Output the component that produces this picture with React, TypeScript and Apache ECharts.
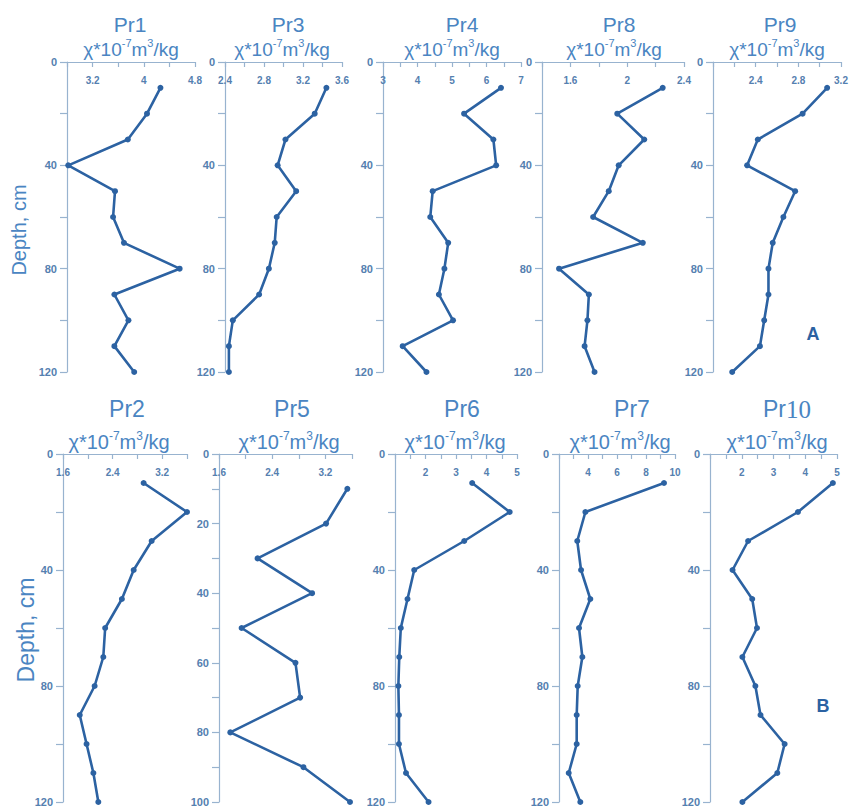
import React, { useEffect, useRef } from "react";
import * as echarts from "echarts";

// ---------- data ----------
const DEPTHS_120 = [10, 20, 30, 40, 50, 60, 70, 80, 90, 100, 110, 120];
const DEPTHS_100 = [10, 20, 30, 40, 50, 60, 70, 80, 90, 100];

const PR1 = [4.26, 4.05, 3.75, 2.82, 3.55, 3.52, 3.69, 4.56, 3.54, 3.76, 3.54, 3.85];
const PR3 = [3.44, 3.32, 3.02, 2.94, 3.13, 2.93, 2.91, 2.85, 2.75, 2.48, 2.44, 2.44];
const PR4 = [6.42, 5.35, 6.2, 6.28, 4.44, 4.37, 4.89, 4.78, 4.62, 5.03, 3.57, 4.26];
const PR8 = [2.25, 1.93, 2.12, 1.94, 1.87, 1.76, 2.11, 1.52, 1.73, 1.72, 1.7, 1.77];
const PR9 = [3.07, 2.84, 2.42, 2.32, 2.77, 2.66, 2.56, 2.52, 2.52, 2.48, 2.44, 2.18];
const PR2 = [2.9, 3.6, 3.03, 2.74, 2.55, 2.28, 2.25, 2.11, 1.87, 1.98, 2.09, 2.17];
const PR5 = [3.53, 3.21, 2.18, 3.0, 1.94, 2.75, 2.82, 1.77, 2.87, 3.57];
const PR6 = [3.53, 4.76, 3.27, 1.63, 1.41, 1.19, 1.14, 1.11, 1.13, 1.13, 1.36, 2.1];
const PR7 = [9.24, 3.82, 3.26, 3.52, 4.16, 3.38, 3.61, 3.29, 3.22, 3.22, 2.67, 3.47];
const PR10 = [4.87, 3.77, 2.2, 1.71, 2.33, 2.48, 2.02, 2.43, 2.59, 3.35, 3.12, 2.02];

// tick values / tick labels of the top (value) axes
const PR1_TICKS = [2.8, 3.2, 3.6, 4, 4.4, 4.8];
const PR1_LABELS = [3.2, 4, 4.8];
const PR3_TICKS = [2.4, 2.6, 2.8, 3.0, 3.2, 3.4, 3.6];
const PR3_LABELS = [2.4, 2.8, 3.2, 3.6];
const PR4_TICKS = [3, 3.5, 4, 4.5, 5, 5.5, 6, 6.5, 7];
const PR4_LABELS = [3, 4, 5, 6, 7];
const PR8_TICKS = [1.4, 1.6, 1.8, 2.0, 2.2, 2.4];
const PR8_LABELS = [1.6, 2, 2.4];
const PR9_TICKS = [2.0, 2.2, 2.4, 2.6, 2.8, 3.0, 3.2];
const PR9_LABELS = [2.4, 2.8, 3.2];
const PR2_TICKS = [1.6, 2.0, 2.4, 2.8, 3.2, 3.6];
const PR2_LABELS = [1.6, 2.4, 3.2];
const PR5_TICKS = [1.6, 2.0, 2.4, 2.8, 3.2, 3.6];
const PR5_LABELS = [1.6, 2.4, 3.2];
const PR6_TICKS = [1, 1.5, 2, 2.5, 3, 3.5, 4, 4.5, 5];
const PR6_LABELS = [2, 3, 4, 5];
const PR7_TICKS = [2, 3, 4, 5, 6, 7, 8, 9, 10];
const PR7_LABELS = [4, 6, 8, 10];
const PR10_TICKS = [1, 1.5, 2, 2.5, 3, 3.5, 4, 4.5, 5];
const PR10_LABELS = [2, 3, 4, 5];

// depth axis ticks / labels
const DEPTH_TICKS_120 = [0, 20, 40, 60, 80, 100, 120];
const DEPTH_LABELS_120 = [0, 40, 80, 120];
const DEPTH_TICKS_100 = [0, 10, 20, 30, 40, 50, 60, 70, 80, 90, 100];
const DEPTH_LABELS_100 = [0, 20, 40, 60, 80, 100];

const PANEL_NAMES = ["Pr1", "Pr3", "Pr4", "Pr8", "Pr9", "Pr2", "Pr5", "Pr6", "Pr7", "Pr10"];
const UNIT_TEXT = "{a|χ*10}{s|-7}{a|m}{s|3}{a|/kg}";
const DEPTH_TITLE = "Depth, cm";
const ROW_LETTERS = ["A", "B"];

// ---------- layout / style ----------
const FONT = "'Liberation Sans', Arial, Helvetica, sans-serif";
const TEXT_BLUE = "#4a85c2";
const LINE_BLUE = "#2c62a2";
const AXIS_BLUE = "#98b3cf";
const TICKLABEL_BLUE = "#5580b0";

type Panel = {
  name: string;
  values: number[];
  depths: number[];
  xMin: number;
  xMax: number;
  xTicks: number[];
  xLabels: number[];
  yMax: number;
  yTicks: number[];
  yLabels: number[];
  grid: { left: number; top: number; width: number; height: number };
  titleX: number;
  unitX: number;
  row: 0 | 1;
};

const ROW_A = { top: 62, height: 310 };
const ROW_B = { top: 454, height: 348 };

const panels: Panel[] = [
  { name: PANEL_NAMES[0], values: PR1, depths: DEPTHS_120, xMin: 2.8, xMax: 4.8, xTicks: PR1_TICKS, xLabels: PR1_LABELS, yMax: 120, yTicks: DEPTH_TICKS_120, yLabels: DEPTH_LABELS_120, grid: { left: 67, width: 128, ...ROW_A }, titleX: 130, unitX: 131, row: 0 },
  { name: PANEL_NAMES[1], values: PR3, depths: DEPTHS_120, xMin: 2.4, xMax: 3.6, xTicks: PR3_TICKS, xLabels: PR3_LABELS, yMax: 120, yTicks: DEPTH_TICKS_120, yLabels: DEPTH_LABELS_120, grid: { left: 225, width: 117, ...ROW_A }, titleX: 288, unitX: 282, row: 0 },
  { name: PANEL_NAMES[2], values: PR4, depths: DEPTHS_120, xMin: 3, xMax: 7, xTicks: PR4_TICKS, xLabels: PR4_LABELS, yMax: 120, yTicks: DEPTH_TICKS_120, yLabels: DEPTH_LABELS_120, grid: { left: 383, width: 138, ...ROW_A }, titleX: 462, unitX: 452, row: 0 },
  { name: PANEL_NAMES[3], values: PR8, depths: DEPTHS_120, xMin: 1.4, xMax: 2.4, xTicks: PR8_TICKS, xLabels: PR8_LABELS, yMax: 120, yTicks: DEPTH_TICKS_120, yLabels: DEPTH_LABELS_120, grid: { left: 542, width: 142, ...ROW_A }, titleX: 619, unitX: 614, row: 0 },
  { name: PANEL_NAMES[4], values: PR9, depths: DEPTHS_120, xMin: 2.0, xMax: 3.2, xTicks: PR9_TICKS, xLabels: PR9_LABELS, yMax: 120, yTicks: DEPTH_TICKS_120, yLabels: DEPTH_LABELS_120, grid: { left: 713, width: 128, ...ROW_A }, titleX: 780, unitX: 777, row: 0 },
  { name: PANEL_NAMES[5], values: PR2, depths: DEPTHS_120, xMin: 1.6, xMax: 3.6, xTicks: PR2_TICKS, xLabels: PR2_LABELS, yMax: 120, yTicks: DEPTH_TICKS_120, yLabels: DEPTH_LABELS_120, grid: { left: 63, width: 124, ...ROW_B }, titleX: 127, unitX: 119, row: 1 },
  { name: PANEL_NAMES[6], values: PR5, depths: DEPTHS_100, xMin: 1.6, xMax: 3.6, xTicks: PR5_TICKS, xLabels: PR5_LABELS, yMax: 100, yTicks: DEPTH_TICKS_100, yLabels: DEPTH_LABELS_100, grid: { left: 219, width: 133, ...ROW_B }, titleX: 292, unitX: 289, row: 1 },
  { name: PANEL_NAMES[7], values: PR6, depths: DEPTHS_120, xMin: 1, xMax: 5, xTicks: PR6_TICKS, xLabels: PR6_LABELS, yMax: 120, yTicks: DEPTH_TICKS_120, yLabels: DEPTH_LABELS_120, grid: { left: 395, width: 122, ...ROW_B }, titleX: 462, unitX: 455, row: 1 },
  { name: PANEL_NAMES[8], values: PR7, depths: DEPTHS_120, xMin: 2, xMax: 10, xTicks: PR7_TICKS, xLabels: PR7_LABELS, yMax: 120, yTicks: DEPTH_TICKS_120, yLabels: DEPTH_LABELS_120, grid: { left: 559, width: 116, ...ROW_B }, titleX: 632, unitX: 620, row: 1 },
  { name: PANEL_NAMES[9], values: PR10, depths: DEPTHS_120, xMin: 1, xMax: 5, xTicks: PR10_TICKS, xLabels: PR10_LABELS, yMax: 120, yTicks: DEPTH_TICKS_120, yLabels: DEPTH_LABELS_120, grid: { left: 710, width: 127, ...ROW_B }, titleX: 787, unitX: 777, row: 1 },
];

function titleText(name: string) {
  const m = name.match(/^([A-Za-z]+)(\d+)$/);
  if (m && m[2].length > 1) return `{a|${m[1]}}{b|${m[2]}}`;
  return `{a|${name}}`;
}

function buildOption() {
  const grid = panels.map((p) => ({ ...p.grid, containLabel: false, outerBoundsMode: "none" }));
  const xAxis = panels.map((p, i) => ({
    type: "value",
    gridIndex: i,
    position: "top",
    min: p.xMin,
    max: p.xMax,
    axisLine: { show: true, onZero: false, lineStyle: { color: AXIS_BLUE, width: 1.2 } },
    axisTick: { show: true, inside: true, length: 5, customValues: p.xTicks, lineStyle: { color: AXIS_BLUE, width: 1.2 } },
    axisLabel: {
      show: true,
      inside: true,
      margin: 13,
      customValues: p.xLabels,
      color: TICKLABEL_BLUE,
      fontFamily: FONT,
      fontSize: 10,
      fontWeight: "bold",
      formatter: (v: number) => String(+v.toFixed(2)),
    },
    splitLine: { show: false },
  }));
  const yAxis = panels.map((p, i) => ({
    type: "value",
    gridIndex: i,
    inverse: true,
    min: 0,
    max: p.yMax,
    axisLine: { show: true, onZero: false, lineStyle: { color: AXIS_BLUE, width: 1.2 } },
    axisTick: { show: true, inside: false, length: 7, customValues: p.yTicks, lineStyle: { color: AXIS_BLUE, width: 1.2 } },
    axisLabel: {
      show: true,
      margin: 10,
      customValues: p.yLabels,
      color: TICKLABEL_BLUE,
      fontFamily: FONT,
      fontSize: 11,
      fontWeight: "bold",
    },
    splitLine: { show: false },
  }));
  const series = panels.map((p, i) => ({
    type: "line",
    name: p.name,
    xAxisIndex: i,
    yAxisIndex: i,
    data: p.values.map((v, k) => [v, p.depths[k]]),
    symbol: "circle",
    symbolSize: 6,
    showSymbol: true,
    lineStyle: { color: LINE_BLUE, width: 2.6 },
    itemStyle: { color: LINE_BLUE },
    silent: true,
  }));

  const graphic: any[] = [];
  panels.forEach((p) => {
    const big = p.row === 1;
    graphic.push({
      type: "text",
      x: p.titleX,
      y: big ? 409 : 24,
      style: {
        text: titleText(p.name),
        fill: TEXT_BLUE,
        textAlign: "center",
        textVerticalAlign: "middle",
        rich: {
          a: { fontFamily: FONT, fontSize: big ? 23 : 21, fill: TEXT_BLUE },
          b: { fontFamily: "'Liberation Serif', 'DejaVu Serif', serif", fontSize: big ? 25 : 23, fill: TEXT_BLUE },
        },
      },
    });
    graphic.push({
      type: "text",
      x: p.unitX,
      y: big ? 441 : 48,
      style: {
        text: UNIT_TEXT,
        fill: TEXT_BLUE,
        textAlign: "center",
        textVerticalAlign: "middle",
        rich: {
          a: { fontFamily: FONT, fontSize: big ? 20 : 19, lineHeight: 22, fill: TEXT_BLUE, verticalAlign: "bottom" },
          s: { fontFamily: FONT, fontSize: big ? 12 : 11, lineHeight: 22, fill: TEXT_BLUE, verticalAlign: "top", padding: [0, 0, 10, 0] },
        },
      },
    });
  });
  graphic.push({
    type: "text",
    x: 19,
    y: 230,
    rotation: Math.PI / 2,
    style: { text: DEPTH_TITLE, fill: TEXT_BLUE, font: `20px ${FONT}`, textAlign: "center", textVerticalAlign: "middle" },
  });
  graphic.push({
    type: "text",
    x: 26,
    y: 630,
    rotation: Math.PI / 2,
    style: { text: DEPTH_TITLE, fill: TEXT_BLUE, font: `23px ${FONT}`, textAlign: "center", textVerticalAlign: "middle" },
  });
  graphic.push({
    type: "text",
    x: 813,
    y: 334,
    style: { text: ROW_LETTERS[0], fill: LINE_BLUE, font: `bold 18px ${FONT}`, textAlign: "center", textVerticalAlign: "middle" },
  });
  graphic.push({
    type: "text",
    x: 823,
    y: 706,
    style: { text: ROW_LETTERS[1], fill: LINE_BLUE, font: `bold 18px ${FONT}`, textAlign: "center", textVerticalAlign: "middle" },
  });

  return {
    animation: false,
    backgroundColor: "#ffffff",
    grid,
    xAxis,
    yAxis,
    series,
    graphic,
  };
}

export default function App() {
  const ref = useRef<HTMLDivElement>(null);
  useEffect(() => {
    if (!ref.current) return;
    const chart = echarts.init(ref.current, undefined, { renderer: "svg" });
    chart.setOption(buildOption() as any);
    return () => chart.dispose();
  }, []);
  return (
    <div
      ref={ref}
      style={{ position: "fixed", left: 0, top: 0, width: 849, height: 807, background: "#fff" }}
    />
  );
}
